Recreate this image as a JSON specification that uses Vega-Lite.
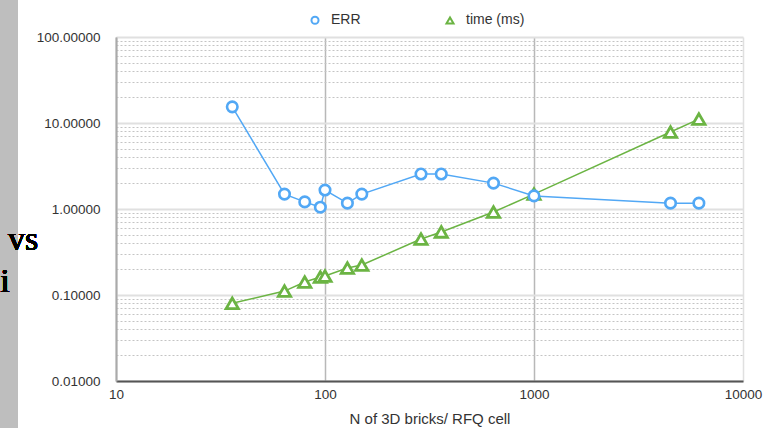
{
  "$schema": "https://vega.github.io/schema/vega-lite/v6.json",
  "width": 627,
  "height": 344,
  "autosize": {"type": "none"},
  "padding": {"left": 116, "top": 37, "right": 21, "bottom": 47},
  "background": "#bebebe",
  "config": {
    "view": {"fill": "white", "stroke": "white", "strokeWidth": 196},
    "font": "Liberation Sans"
  },
  "data": {
    "values": [
      {"n": 36, "value": 0.08, "series": "time (ms)"},
      {"n": 64, "value": 0.111, "series": "time (ms)"},
      {"n": 80, "value": 0.1416, "series": "time (ms)"},
      {"n": 95, "value": 0.162, "series": "time (ms)"},
      {"n": 100, "value": 0.166, "series": "time (ms)"},
      {"n": 128, "value": 0.206, "series": "time (ms)"},
      {"n": 150, "value": 0.223, "series": "time (ms)"},
      {"n": 288, "value": 0.448, "series": "time (ms)"},
      {"n": 360, "value": 0.541, "series": "time (ms)"},
      {"n": 640, "value": 0.922, "series": "time (ms)"},
      {"n": 1000, "value": 1.49, "series": "time (ms)"},
      {"n": 4500, "value": 7.85, "series": "time (ms)"},
      {"n": 6150, "value": 11.1, "series": "time (ms)"},
      {"n": 36, "value": 15.4, "series": "ERR"},
      {"n": 64, "value": 1.49, "series": "ERR"},
      {"n": 80, "value": 1.21, "series": "ERR"},
      {"n": 95, "value": 1.05, "series": "ERR"},
      {"n": 100, "value": 1.66, "series": "ERR"},
      {"n": 128, "value": 1.17, "series": "ERR"},
      {"n": 150, "value": 1.49, "series": "ERR"},
      {"n": 288, "value": 2.55, "series": "ERR"},
      {"n": 360, "value": 2.55, "series": "ERR"},
      {"n": 640, "value": 2.0, "series": "ERR"},
      {"n": 1000, "value": 1.42, "series": "ERR"},
      {"n": 4500, "value": 1.17, "series": "ERR"},
      {"n": 6150, "value": 1.17, "series": "ERR"}
    ]
  },
  "encoding": {
    "x": {
      "field": "n", "type": "quantitative",
      "scale": {"type": "log", "domain": [10, 10000], "nice": false},
      "axis": {
        "values": [10, 100, 1000, 10000],
        "title": "N of 3D bricks/ RFQ cell",
        "titleFontSize": 15, "titleFontWeight": "normal", "titleColor": "#333", "titlePadding": 11,
        "labelFontSize": 13.5, "labelColor": "#333", "labelPadding": 6, "labelFlush": false,
        "ticks": false,
        "domainColor": "#555", "domainWidth": 2,
        "grid": true,
        "gridColor": {"condition": {"test": "datum.value == 10000", "value": "#e0e0e0"}, "value": "#b8b8b8"},
        "gridWidth": 1.5,
        "labelExpr": "format(datum.value, 'd')"
      }
    },
    "y": {
      "field": "value", "type": "quantitative",
      "scale": {"type": "log", "domain": [0.01, 100], "nice": false},
      "axis": {
        "values": [0.01,0.02,0.03,0.04,0.05,0.06,0.07,0.08,0.09,0.1,0.2,0.3,0.4,0.5,0.6,0.7,0.8,0.9,1,2,3,4,5,6,7,8,9,10,20,30,40,50,60,70,80,90,100],
        "title": null,
        "labelExpr": "indexof([0.01,0.1,1,10,100], datum.value) >= 0 ? format(datum.value, '.5f') : ''",
        "labelOverlap": false, "labelFlush": false,
        "labelFontSize": 13.5, "labelColor": "#333", "labelPadding": 16,
        "ticks": false,
        "domainColor": "#aaaaaa", "domainWidth": 2,
        "grid": true,
        "gridColor": {"condition": {"test": "indexof([0.01,0.1,1,10,100], datum.value) >= 0", "value": "#e0e0e0"}, "value": "#c4c4c4"},
        "gridDash": {"condition": {"test": "indexof([0.01,0.1,1,10,100], datum.value) >= 0", "value": []}, "value": [2, 2]},
        "gridWidth": {"condition": {"test": "indexof([0.01,0.1,1,10,100], datum.value) >= 0", "value": 2}, "value": 1}
      }
    },
    "color": {
      "field": "series", "type": "nominal",
      "scale": {"domain": ["ERR", "time (ms)"], "range": ["#52a8f5", "#6bb443"]},
      "legend": {
        "title": null, "orient": "none", "direction": "horizontal",
        "legendX": 192, "legendY": -24, "padding": 0,
        "labelFontSize": 14, "labelColor": "#333", "labelOffset": 9,
        "symbolSize": 50, "symbolStrokeWidth": 2, "symbolFillColor": "white",
        "columnPadding": 81
      }
    }
  },
  "layer": [
    {
      "mark": {"type": "line", "strokeWidth": 1.5}
    },
    {
      "transform": [{"filter": "datum.series == 'time (ms)'"}],
      "mark": {"type": "point", "fill": "white", "strokeWidth": 2.8, "size": 150, "opacity": 1},
      "encoding": {
        "shape": {
          "field": "series", "type": "nominal",
          "scale": {"domain": ["ERR", "time (ms)"], "range": ["circle", "triangle-up"]}
        }
      }
    },
    {
      "transform": [{"filter": "datum.series == 'ERR'"}],
      "mark": {"type": "point", "fill": "white", "strokeWidth": 2.6, "size": 110, "opacity": 1},
      "encoding": {
        "shape": {
          "field": "series", "type": "nominal",
          "scale": {"domain": ["ERR", "time (ms)"], "range": ["circle", "triangle-up"]}
        }
      }
    },
    {
      "mark": {"type": "text", "text": "vs", "font": "Liberation Serif", "fontSize": 34, "align": "left", "baseline": "alphabetic"},
      "encoding": {"x": {"datum": 3.04}, "y": {"datum": 0.334}, "color": {"value": "black"}}
    },
    {
      "mark": {"type": "text", "text": "i", "font": "Liberation Serif", "fontSize": 34, "align": "left", "baseline": "alphabetic"},
      "encoding": {"x": {"datum": 2.79}, "y": {"datum": 0.1084}, "color": {"value": "black"}}
    }
  ]
}
